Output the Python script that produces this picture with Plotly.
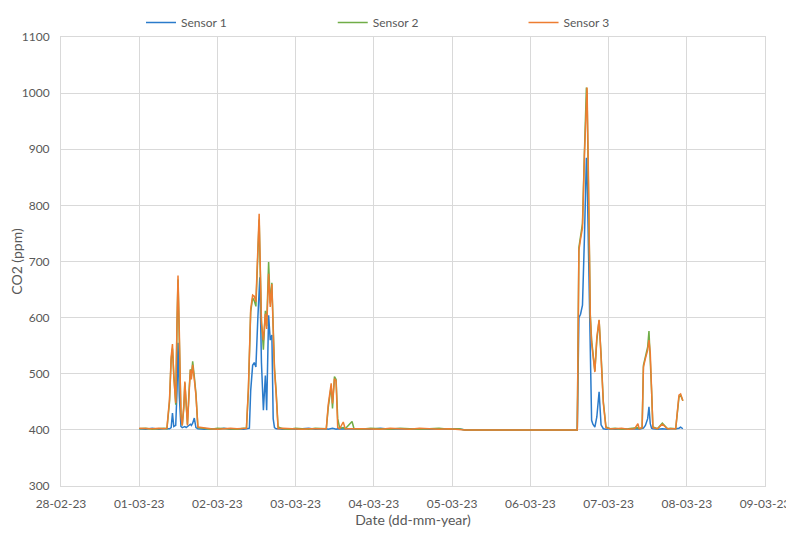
"""CO2 readings of three sensors, 01-03-23 to 07-03-23."""

import pandas as pd
import plotly.graph_objects as go

START = pd.Timestamp("2023-03-01")

# hours since 01-03-23 00:00
HOURS = [
    0, 2, 4, 6, 7.5,
    8.5, 9.3, 9.8, 10.2, 10.6, 11.2, 11.6, 11.9, 12.3, 12.8, 13.2, 13.7, 14.0,
    14.4, 14.8, 15.3, 15.7, 16.0, 16.4, 16.9, 17.4, 18.0,
    20, 22, 24, 26, 28, 30, 32,
    32.9, 33.5, 33.8, 34.2, 34.8, 35.3, 35.8, 36.4, 36.8, 37.0, 37.5, 38.1,
    38.7, 39.1, 39.7, 40.2, 40.7, 41.1, 41.5, 42.0, 42.6,
    44, 46, 48, 50, 52, 54, 56,
    57.4, 58.0, 58.9, 59.3, 59.9, 60.4, 60.9, 61.5, 62.6, 63.2, 65.3, 65.9,
    68, 71, 74, 77, 80, 83, 86, 89, 92, 95, 98,
    100, 134.4,
    134.9, 135.4, 136.0, 136.6, 137.2, 137.4, 137.8, 138.4, 138.8, 139.2,
    139.8, 140.4, 141.1, 141.7, 142.4, 143.2,
    144.5, 146, 148, 150, 152, 153.0, 153.4,
    154.3, 154.7, 155.3, 156.0, 156.4, 156.8, 157.2, 157.6,
    159, 160.5, 162.1, 163, 164.6, 165.6, 166.1, 166.8,
]

SENSOR_1 = [
    402, 401, 403, 401, 402,
    402, 402, 404, 430, 406, 408, 470, 555, 460, 406, 404, 405, 406,
    404, 406, 407, 410, 408, 412, 421, 404, 402,
    401, 402, 401, 403, 401, 402, 401,
    402, 402, 403, 470, 515, 520, 512, 600, 660, 672, 520, 435,
    497, 435, 604, 560, 569, 420, 404, 402, 402,
    401, 402, 401, 402, 403, 401, 402,
    402, 401, 402, 403, 402, 401, 402, 402, 402, 401, 402, 401,
    402, 401, 403, 401, 402, 401, 402, 401, 402, 401, 402,
    400, 400,
    600, 606, 622, 743, 885, 860, 743, 530, 417, 410,
    405, 423, 468, 409, 402, 401,
    402, 401, 402, 401, 402, 402, 401,
    402, 403, 408, 420, 441, 411, 403, 402,
    401, 402, 401, 402, 402, 403, 405, 402,
]

SENSOR_2 = [
    402, 403, 401, 402, 403,
    402, 450, 525, 545, 500, 445, 590, 668, 560, 430, 408, 440, 484,
    440, 410, 470, 508, 495, 522, 495, 465, 404,
    402, 401, 403, 402, 402, 401, 403,
    403, 470, 540, 610, 635, 630, 620, 700, 775, 720, 595, 543,
    612, 585, 699, 625, 662, 585, 510, 470, 405,
    402, 401, 403, 402, 401, 403, 402,
    402, 440, 478, 438, 495, 490, 420, 403, 404, 402, 415, 402,
    401, 403, 402, 401, 403, 402, 401, 402, 403, 401, 402,
    400, 400,
    725, 745, 768, 895, 1010, 1000, 865, 605, 560, 540,
    505, 560, 595, 535, 450, 405,
    402, 403, 401, 402, 403, 404, 402,
    404, 515, 530, 548, 576, 530, 470, 405,
    402, 412, 402, 403, 402, 458, 462, 452,
]

SENSOR_3 = [
    403, 402, 402, 403, 402,
    403, 455, 530, 553, 495, 448, 595, 675, 575, 425, 408, 445, 486,
    440, 408, 465, 507, 490, 516, 490, 462, 405,
    403, 402, 401, 402, 403, 402, 402,
    403, 475, 545, 615, 640, 638, 628, 710, 785, 730, 589, 560,
    607, 580, 678, 619, 660, 577, 506, 465, 402,
    403, 402, 402, 401, 402, 402, 403,
    402, 445, 483, 447, 491, 487, 404, 402, 414, 402, 403, 402,
    402, 402, 401, 403, 402, 401, 403, 402, 401, 402, 401,
    400, 400,
    720, 740, 760, 890, 1005, 1010, 862, 601, 555, 535,
    503, 565, 596, 530, 447, 404,
    402, 402, 403, 401, 402, 411, 402,
    404, 512, 527, 542, 560, 537, 471, 404,
    402, 410, 402, 402, 402, 462, 464, 452,
]

SERIES = [
    ("Sensor 1", SENSOR_1, "#2a7bcb", "legend", 0.1136),
    ("Sensor 2", SENSOR_2, "#70ad47", "legend2", 0.386),
    ("Sensor 3", SENSOR_3, "#ed7d31", "legend3", 0.657),
]

times = [START + pd.Timedelta(hours=h) for h in HOURS]

fig = go.Figure()
legends = {}
for name, vals, color, leg, lx in SERIES:
    fig.add_trace(
        go.Scatter(
            x=times,
            y=vals,
            mode="lines",
            name=name,
            legend=leg,
            line=dict(color=color, width=1.5),
        )
    )
    legends[leg] = dict(
        x=lx,
        xanchor="left",
        yref="container",
        y=1.017,
        yanchor="top",
        itemwidth=30,
        bgcolor="rgba(0,0,0,0)",
        font=dict(size=12, color="#595959"),
    )

grid = "#d9d9d9"
# page body has an 8px margin, so the figure is 8px smaller than the window
fig.update_layout(
    width=786,
    height=526,
    margin=dict(l=53, r=29, t=28, b=48),
    paper_bgcolor="white",
    plot_bgcolor="white",
    font=dict(family="Lato, sans-serif", size=12, color="#595959"),
    showlegend=True,
    **legends,
    xaxis=dict(
        title=dict(text="Date (dd-mm-year)", standoff=4),
        type="date",
        range=["2023-02-28", "2023-03-09"],
        dtick=86400000,
        tick0="2023-02-28",
        tickformat="%d-%m-%y",
        ticklabelstandoff=7,
        showgrid=True,
        gridcolor=grid,
        showline=True,
        linecolor=grid,
        mirror=True,
        ticks="",
        zeroline=False,
        automargin=False,
    ),
    yaxis=dict(
        title=dict(text="CO2 (ppm)", standoff=10),
        range=[300, 1100],
        dtick=100,
        ticklabelstandoff=8,
        showgrid=True,
        gridcolor=grid,
        showline=True,
        linecolor=grid,
        mirror=True,
        ticks="",
        zeroline=False,
        automargin=False,
    ),
)

fig.write_html("out.html")
